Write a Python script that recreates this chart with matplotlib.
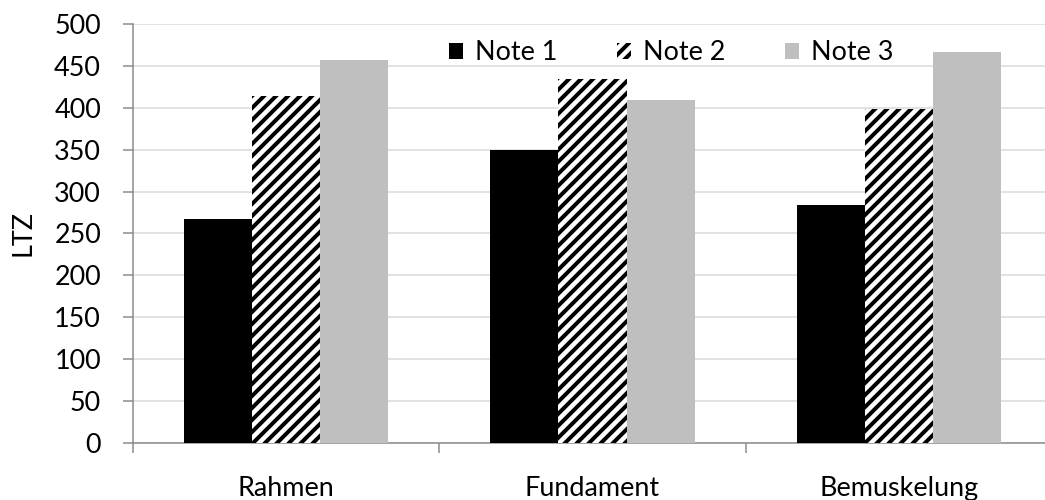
import numpy as np
import matplotlib.pyplot as plt

categories = ["Rahmen", "Fundament", "Bemuskelung"]
note1 = [267, 350, 284]
note2 = [414, 434, 398]
note3 = [457, 409, 466]
series_names = ["Note 1", "Note 2", "Note 3"]

plt.rcParams['font.family'] = ['Lato', 'DejaVu Sans']
plt.rcParams['hatch.linewidth'] = 4.0
plt.rcParams['hatch.color'] = 'black'

fig = plt.figure(figsize=(1045 / 72, 500 / 72), dpi=72)
ax = fig.add_axes([133 / 1045, 56.7 / 500, 919 / 1045, 419.6 / 500])

x = np.arange(len(categories))
w = 0.222
ax.bar(x - w, note1, w, color='black', label=series_names[0], zorder=3)
ax.bar(x, note2, w, color='white', edgecolor='black', linewidth=0,
       hatch='//', label=series_names[1], zorder=3)
ax.bar(x + w, note3, w, color='#bfbfbf', label=series_names[2], zorder=3)

ax.set_xlim(-0.5, 2.5)
ax.set_ylim(0, 500)
ax.set_yticks(range(0, 501, 50))
ax.yaxis.grid(True, color='#d9d9d9', linewidth=1.5, zorder=0)
ax.set_axisbelow(True)

ax.set_xticks(x)
ax.set_xticklabels(categories)
ax.set_xticks([-0.5, 0.5, 1.5, 2.5], minor=True)
ax.tick_params(axis='x', which='major', length=0, pad=33, labelsize=27)
ax.tick_params(axis='x', which='minor', length=10, width=1.5, color='#898989')
ax.tick_params(axis='y', length=10, width=1.5, color='#898989', pad=22, labelsize=27)

for s in ['top', 'right']:
    ax.spines[s].set_visible(False)
for s in ['left', 'bottom']:
    ax.spines[s].set_color('#898989')
    ax.spines[s].set_linewidth(1.5)

ax.set_ylabel("LTZ", fontsize=27, labelpad=19)

fig.legend(loc='center left', bbox_to_anchor=(449 / 1045, 1 - 53 / 500), ncol=3,
           frameon=False, fontsize=27, handlelength=0.52, handleheight=0.52,
           handletextpad=0.45, columnspacing=2.2, borderaxespad=0, borderpad=0)

fig.savefig("out.png", dpi=72)
